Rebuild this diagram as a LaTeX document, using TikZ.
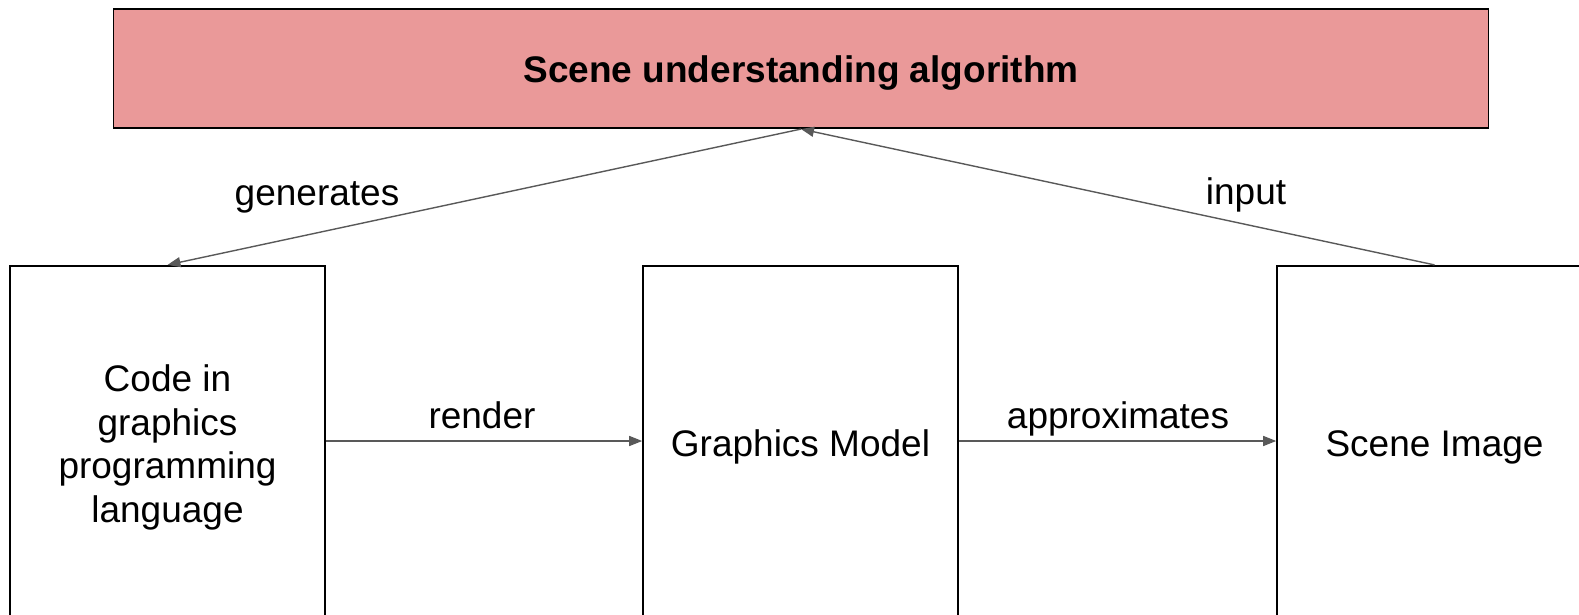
\documentclass[tikz,border=0pt]{standalone}
\usepackage{fontspec}
\setmainfont{Liberation Sans}
\usetikzlibrary{arrows.meta}
\definecolor{topfill}{HTML}{EA9999}
\definecolor{arrowgray}{HTML}{595959}
\begin{document}
\begin{tikzpicture}[x=1pt,y=-1pt,
  box/.style={draw=black,line width=1.6pt,rectangle,inner sep=0pt,align=center,
    font=\fontsize{37}{43.5}\selectfont},
  lowbox/.style={box,minimum width=315pt,minimum height=363pt},
  conn/.style={draw=arrowgray,line width=1.4pt,-{Triangle[length=13pt,width=10pt]}},
  lbl/.style={font=\fontsize{37}{43.5}\selectfont,inner sep=0pt,text height=27pt,text depth=8pt}]
\useasboundingbox (0,0) rectangle (1579,614);
\clip (0,0) rectangle (1579,614);
\node[box,fill=topfill,minimum width=1375pt,minimum height=119.5pt,text height=35pt,text depth=8pt,
  font=\fontsize{37}{43.5}\selectfont\bfseries] (top) at (801,68.5) {Scene understanding algorithm};
\node[lowbox] (code) at (167.5,447.2) {Code in\\graphics\\programming\\language};
\node[lowbox] (model) at (800.5,447.2) {Graphics Model};
\node[lowbox] (image) at (1434.5,447.2) {Scene Image};
\draw[conn] (top.south) -- (code.north);
\draw[conn] (image.north) -- (top.south);
\draw[conn] (code.east |- 0,441) -- (model.west |- 0,441);
\draw[conn] (model.east |- 0,441) -- (image.west |- 0,441);
\node[lbl] (lgen) at (317,196) {generates};
\node[lbl] (linp) at (1246,195) {input};
\node[lbl] (lren) at (482,418.5) {render};
\node[lbl] (lapp) at (1118,418.5) {approximates};
\end{tikzpicture}
\end{document}
